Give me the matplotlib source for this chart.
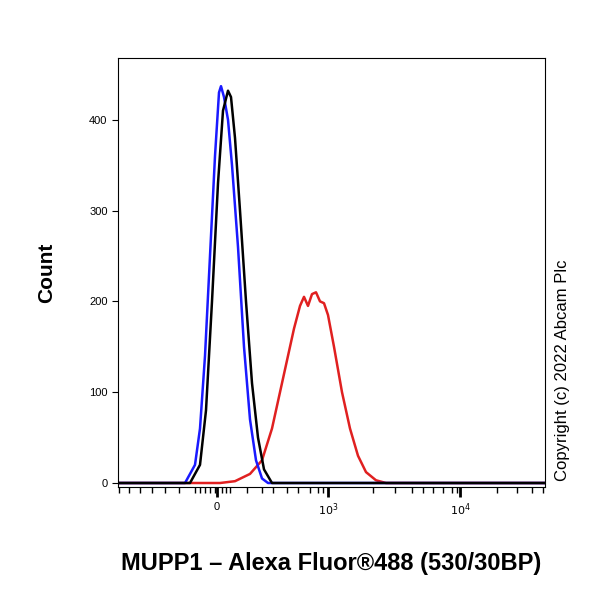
import matplotlib
matplotlib.use("Agg")
import matplotlib.pyplot as plt
plt.rcParams["font.family"] = "Liberation Sans"

# x in display channel units (0..427 across the axis)
blue_x = [118,185,195,200,205,210,215,219,221,224,228,232,238,244,250,256,262,268,545]
blue_y = [0,0,20,60,140,250,360,430,437,425,400,350,260,150,70,25,5,0,0]
black_x = [118,190,200,206,212,218,223,228,231,235,240,246,252,258,264,272,545]
black_y = [0,0,20,80,200,330,410,432,425,380,300,200,110,50,15,0,0]
red_x = [118,220,235,250,262,272,280,288,294,300,304,308,312,316,320,324,328,334,342,350,358,366,376,386,545]
red_y = [0,0,2,10,25,60,100,140,170,195,205,195,208,210,200,198,185,150,100,60,30,12,3,0,0]
major_pos = [217, 328, 460]
major_labels = ["0", "$10^3$", "$10^4$"]
minor_pos = [119,129,140,152,165,179,195,200,205,210,215,222,226,230,247,262,273,287,298,310,318,323,
             373,395,412,423,433,443,452,457,497,517,532,543]
y_ticks = [0,100,200,300,400]

fig = plt.figure(figsize=(6,6), dpi=100)
ax = fig.add_axes([118/600, 113/600, 427/600, 429/600])
ax.plot(red_x, red_y, color="#e02020", lw=1.8)
ax.plot(blue_x, blue_y, color="#1a1aff", lw=1.8)
ax.plot(black_x, black_y, color="black", lw=1.8)
ax.set_xlim(118, 545)
ax.set_ylim(-4.4, 468)
ax.set_xticks(major_pos)
ax.set_xticklabels(major_labels, fontsize=8)
ax.set_xticks(minor_pos, minor=True)
ax.tick_params(axis="x", which="major", length=7, width=2)
ax.tick_params(axis="x", which="minor", length=4, width=1)
ax.set_yticks(y_ticks)
ax.set_yticklabels([str(v) for v in y_ticks], fontsize=8)
ax.tick_params(axis="y", length=4)
ax.set_ylabel("Count", fontsize=15, fontweight="bold", labelpad=24)
ax.set_xlabel("MUPP1 \u2013 Alexa Fluor\u00ae488 (530/30BP)", fontsize=17, fontweight="bold", labelpad=24)
fig.text(562/600, 1-370/600, "Copyright (c) 2022 Abcam Plc", rotation=90, fontsize=12,
         ha="center", va="center")
fig.savefig("out.png", dpi=100)
